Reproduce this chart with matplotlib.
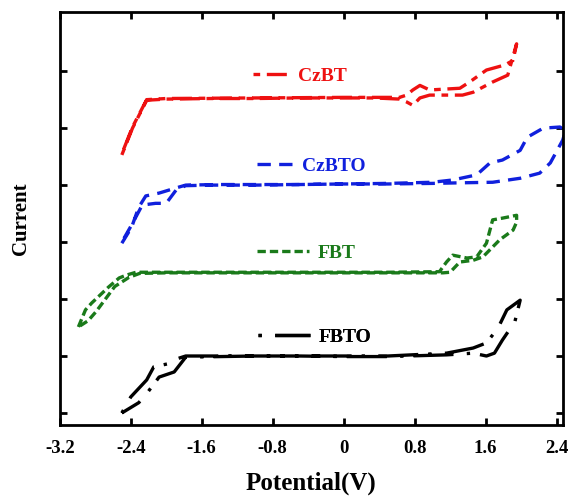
"""
Cyclic voltammograms of CzBT, CzBTO, FBT and FBTO (offset for clarity)
"""

import matplotlib
matplotlib.use("Agg")
import matplotlib.pyplot as plt

# CzBT (red, dash-dot)
czbt_x = [-2.50, -2.38, -2.22, -2.0, -1.5, -1.0, -0.5, 0.0, 0.35, 0.63, 0.71, 0.78,
          0.86, 0.97, 1.34, 1.46, 1.68, 1.85, 1.95, 1.91, 1.82, 1.61, 1.42, 1.31,
          0.97, 0.86, 0.78, 0.71, 0.63, 0.0, -1.0, -2.0, -2.22, -2.38, -2.50]
czbt_y = [4.53, 5.00, 5.49, 5.51, 5.52, 5.52, 5.53, 5.53, 5.53, 5.51, 5.46, 5.40,
          5.53, 5.58, 5.58, 5.63, 5.81, 5.93, 6.48, 6.19, 6.11, 6.02, 5.81, 5.70,
          5.67, 5.75, 5.67, 5.58, 5.54, 5.54, 5.53, 5.52, 5.50, 5.02, 4.55]

# CzBTO (blue, dashed)
czbto_x = [-2.50, -2.39, -2.31, -2.23, -2.08, -1.89, -1.78, -1.4, -1.0, -0.5, 0.0,
           0.5, 1.0, 1.23, 1.50, 1.65, 1.79, 1.99, 2.07, 2.25, 2.44, 2.50, 2.47,
           2.33, 2.21, 1.99, 1.68, 1.31, 1.0, 0.5, 0.0, -0.5, -1.0, -1.5, -1.78,
           -1.89, -2.00, -2.12, -2.27, -2.39, -2.50]
czbto_y = [2.98, 3.26, 3.61, 3.81, 3.86, 3.95, 4.00, 4.01, 4.01, 4.01, 4.02,
           4.03, 4.05, 4.09, 4.18, 4.39, 4.44, 4.61, 4.84, 5.00, 5.02, 4.95, 4.79,
           4.39, 4.21, 4.12, 4.05, 4.04, 4.03, 4.02, 4.02, 4.01, 4.00, 4.00, 3.99,
           3.91, 3.68, 3.68, 3.65, 3.30, 3.00]

# FBT (green, short dash)
fbt_x = [-2.99, -2.91, -2.84, -2.65, -2.53, -2.45, -2.34, -2.0, -1.0, 0.0, 0.5,
         1.08, 1.16, 1.23, 1.39, 1.50, 1.61, 1.68, 1.79, 1.95, 1.95, 1.91, 1.76,
         1.57, 1.46, 1.31, 1.20, 1.12, 0.5, 0.0, -1.0, -2.0, -2.30, -2.42, -2.58,
         -2.79, -2.88, -2.99]
fbt_y = [1.51, 1.81, 1.93, 2.21, 2.37, 2.42, 2.47, 2.47, 2.47, 2.47, 2.47,
         2.48, 2.65, 2.77, 2.72, 2.74, 2.98, 3.39, 3.42, 3.47, 3.35, 3.21, 3.04,
         2.74, 2.68, 2.65, 2.47, 2.46, 2.46, 2.46, 2.46, 2.46, 2.45, 2.38, 2.22,
         1.78, 1.62, 1.51]

# FBTO (black, dot-long dash)
fbto_x = [-2.50, -2.40, -2.22, -2.14, -1.93, -1.86, -1.78, -1.0, -0.5, 0.0, 0.5,
          1.16, 1.46, 1.61, 1.74, 1.84, 1.99, 1.93, 1.79, 1.70, 1.61, 1.46, 1.16,
          0.5, 0.0, -0.5, -1.0, -1.78, -1.91, -2.08, -2.23, -2.31, -2.50]
fbto_y = [0.00, 0.28, 0.58, 0.81, 0.88, 0.96, 1.00, 1.00, 1.00, 1.00, 1.00,
          1.05, 1.14, 1.23, 1.49, 1.81, 1.98, 1.60, 1.28, 1.05, 1.00, 1.05, 1.02,
          0.99, 0.99, 1.00, 1.00, 0.98, 0.72, 0.63, 0.32, 0.18, 0.00]

x_ticks = [-3.2, -2.4, -1.6, -0.8, 0, 0.8, 1.6, 2.4]
x_tick_labels = ["-3.2", "-2.4", "-1.6", "-0.8", "0", "0.8", "1.6", "2.4"]

plt.rcParams["font.family"] = ["Liberation Serif", "DejaVu Serif"]
plt.rcParams["font.weight"] = "bold"

fig = plt.figure(figsize=(5.69, 4.97), dpi=100)
ax = fig.add_axes([0.105, 0.145, 0.884, 0.831])

lw = 2.4
l1, = ax.plot(czbt_x, czbt_y, color="#ee1111", lw=lw, dashes=(2, 2, 6, 2), label="CzBT")
l2, = ax.plot(czbto_x, czbto_y, color="#1020dd", lw=lw, dashes=(4, 2.5), label="CzBTO")
l3, = ax.plot(fbt_x, fbt_y, color="#1a7a1a", lw=lw, dashes=(2.5, 1.2), label="FBT")
l4, = ax.plot(fbto_x, fbto_y, color="black", lw=lw, dashes=(1, 4, 12, 3), label="FBTO")

# one small legend next to each curve
legend_spots = [(l1, 0.384, 0.845, 1.9), (l2, 0.392, 0.627, 1.9),
                (l3, 0.392, 0.416, 2.7), (l4, 0.394, 0.213, 2.7)]
for line, lx, ly, hl in legend_spots:
    leg = ax.legend(handles=[line], loc="center left", bbox_to_anchor=(lx, ly),
                    frameon=False, borderpad=0, borderaxespad=0, handletextpad=0.4,
                    handlelength=hl, labelcolor="linecolor",
                    prop={"family": "Liberation Serif", "weight": "bold", "size": 14})
    ax.add_artist(leg)

ax.set_xlim(-3.2, 2.47)
ax.set_ylim(-0.21, 7.04)
ax.set_xticks(x_ticks)
ax.set_xticklabels(x_tick_labels)
ax.set_yticks(range(7))
ax.set_yticklabels([])
ax.tick_params(direction="in", length=5, width=2, top=True, right=True,
               labelsize=13.5, pad=11)
for s in ax.spines.values():
    s.set_linewidth(2)

ax.set_xlabel("Potential(V)", fontsize=18, fontweight="bold", labelpad=10)
ax.set_ylabel("Current", fontsize=15, fontweight="bold", labelpad=10)

fig.savefig("out.png", dpi=100)
